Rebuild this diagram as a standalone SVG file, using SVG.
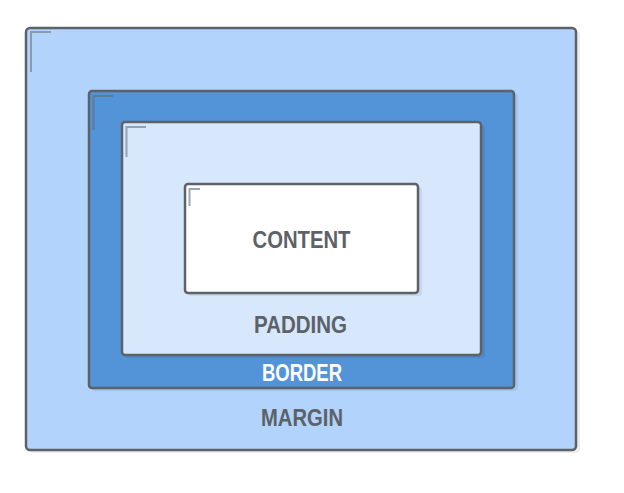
<svg xmlns="http://www.w3.org/2000/svg" width="624" height="493" viewBox="0 0 624 493">
<style>
.box{stroke:#5d6168;stroke-width:2.5}
.sh{fill:#000;opacity:0.07}
.mark{fill:none;stroke:#7d8a96;stroke-width:2;opacity:0.75}
.lbl{font-family:"Liberation Sans",Arial,sans-serif;font-weight:bold;font-size:23px;fill:#5d6168;text-anchor:middle;dominant-baseline:central}
</style>
<rect width="624" height="493" fill="#ffffff"/>
<g id="margin">
<rect class="sh" x="29" y="31" width="551" height="422" rx="4"/>
<rect class="box" x="26" y="28" width="550" height="422" rx="4" fill="#b2d4fc"/>
<path class="mark" d="M31 72V32H51"/>
<text class="lbl" x="302" y="418" textLength="82" lengthAdjust="spacingAndGlyphs">MARGIN</text>
</g>
<g id="border">
<rect class="sh" x="92" y="94" width="426" height="297" rx="3"/>
<rect class="box" x="89" y="91" width="425" height="297" rx="3" fill="#5394d9"/>
<path class="mark" d="M93.5 130V96H113" style="stroke:#5f7185"/>
<text class="lbl" x="302" y="373" style="fill:#ffffff" textLength="80" lengthAdjust="spacingAndGlyphs">BORDER</text>
</g>
<g id="padding">
<rect class="sh" x="125" y="125" width="360" height="233" rx="3"/>
<rect class="box" x="122" y="122" width="359" height="233" rx="3" fill="#d7e8fd"/>
<path class="mark" d="M126.5 157V127H146"/>
<text class="lbl" x="300.5" y="325" textLength="93" lengthAdjust="spacingAndGlyphs">PADDING</text>
</g>
<g id="content">
<rect class="sh" x="188" y="187" width="234" height="109" rx="3"/>
<rect class="box" x="185" y="184" width="233" height="109" rx="3" fill="#ffffff"/>
<path class="mark" d="M189.5 206V189H200"/>
<text class="lbl" x="301.5" y="240" textLength="98" lengthAdjust="spacingAndGlyphs">CONTENT</text>
</g>
<g id="connectors"></g>
</svg>
